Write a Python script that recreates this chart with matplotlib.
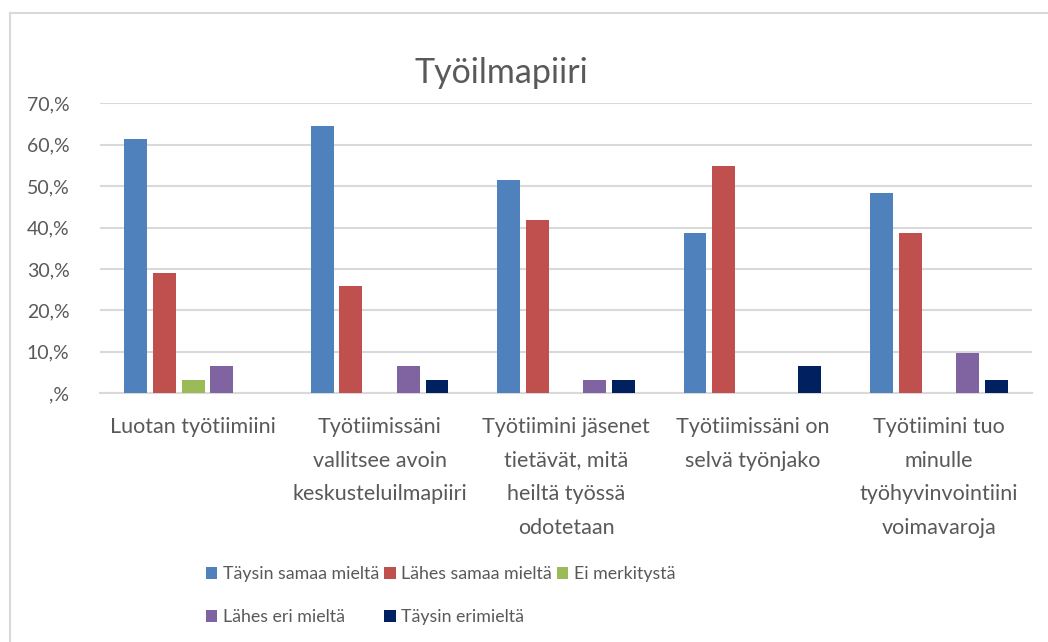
import numpy as np
import matplotlib
matplotlib.use('Agg')
import matplotlib.pyplot as plt
from matplotlib.patches import Patch
from matplotlib.lines import Line2D

plt.rcParams['font.family'] = ['Lato', 'DejaVu Sans']

# data (share of answers, n = 31)
categories = ['Luotan työtiimiini',
              'Työtiimissäni\nvallitsee avoin\nkeskusteluilmapiiri',
              'Työtiimini jäsenet\ntietävät, mitä\nheiltä työssä\nodotetaan',
              'Työtiimissäni on\nselvä työnjako',
              'Työtiimini tuo\nminulle\ntyöhyvinvointiini\nvoimavaroja']
series = ['Täysin samaa mieltä', 'Lähes samaa mieltä', 'Ei merkitystä',
          'Lähes eri mieltä', 'Täysin erimieltä']
taysin_samaa = [61.3, 64.5, 51.6, 38.7, 48.4]
lahes_samaa = [29.0, 25.8, 41.9, 54.8, 38.7]
ei_merkitysta = [3.2, 0.0, 0.0, 0.0, 0.0]
lahes_eri = [6.5, 6.5, 3.2, 0.0, 9.7]
taysin_eri = [0.0, 3.2, 3.2, 6.5, 3.2]
yticks = [0, 10, 20, 30, 40, 50, 60, 70]
ytick_labels = [',%', '10,%', '20,%', '30,%', '40,%', '50,%', '60,%', '70,%']

colors = ['#4F81BD', '#C0504D', '#9BBB59', '#8064A2', '#002060']
txt = '#595959'
grid = '#D9D9D9'

W, H = 1048, 642
fig = plt.figure(figsize=(W / 100, H / 100), dpi=100)
ax = fig.add_axes([100 / W, 1 - 393.3 / H, 932 / W, 290 / H])

values = [taysin_samaa, lahes_samaa, ei_merkitysta, lahes_eri, taysin_eri]
x = np.arange(len(categories))
bw = 0.123
step = 0.154
for j, vals in enumerate(values):
    v = np.array(vals)
    xs = x + (j - 2) * step
    keep = v > 0
    ax.bar(xs[keep], v[keep], width=bw, color=colors[j], linewidth=0, zorder=3)

ax.set_xlim(-0.5, len(categories) - 0.5)
ax.set_ylim(0, 70)
ax.set_yticks(yticks)
ax.set_yticklabels(ytick_labels)
ax.set_xticks(x)
ax.set_xticklabels(categories, linespacing=1.85, va='top')
ax.tick_params(axis='both', length=0, colors=txt)
ax.tick_params(axis='y', pad=22, labelsize=14)
ax.tick_params(axis='x', pad=17, labelsize=15.5)
ax.grid(axis='y', color=grid, linewidth=1.5, zorder=0)
for s in ['top', 'right', 'left']:
    ax.spines[s].set_visible(False)
ax.spines['bottom'].set_color(grid)
ax.spines['bottom'].set_linewidth(1.5)

fig.text(501 / W, 1 - 73 / H, 'Työilmapiiri', ha='center', va='center',
         fontsize=24.5, color=txt)

# legend, filled row by row
handles = [Patch(facecolor=c, edgecolor='none') for c in colors]
order = [0, 3, 1, 4, 2]
leg = fig.legend([handles[i] for i in order], [series[i] for i in order],
                 ncol=3, loc='upper left', bbox_to_anchor=(197 / W, 1 - 557 / H),
                 frameon=False, fontsize=12.8, labelcolor=txt,
                 handlelength=0.64, handleheight=0.64, handletextpad=0.3,
                 columnspacing=0.3, labelspacing=1.55, borderpad=0)

# chart area border
fig.add_artist(Line2D([10 / W, 1], [1 - 13 / H, 1 - 13 / H], color=grid, lw=1.5))
fig.add_artist(Line2D([10 / W, 10 / W], [0, 1 - 13 / H], color=grid, lw=1.5))

fig.savefig('out.png', dpi=100)
